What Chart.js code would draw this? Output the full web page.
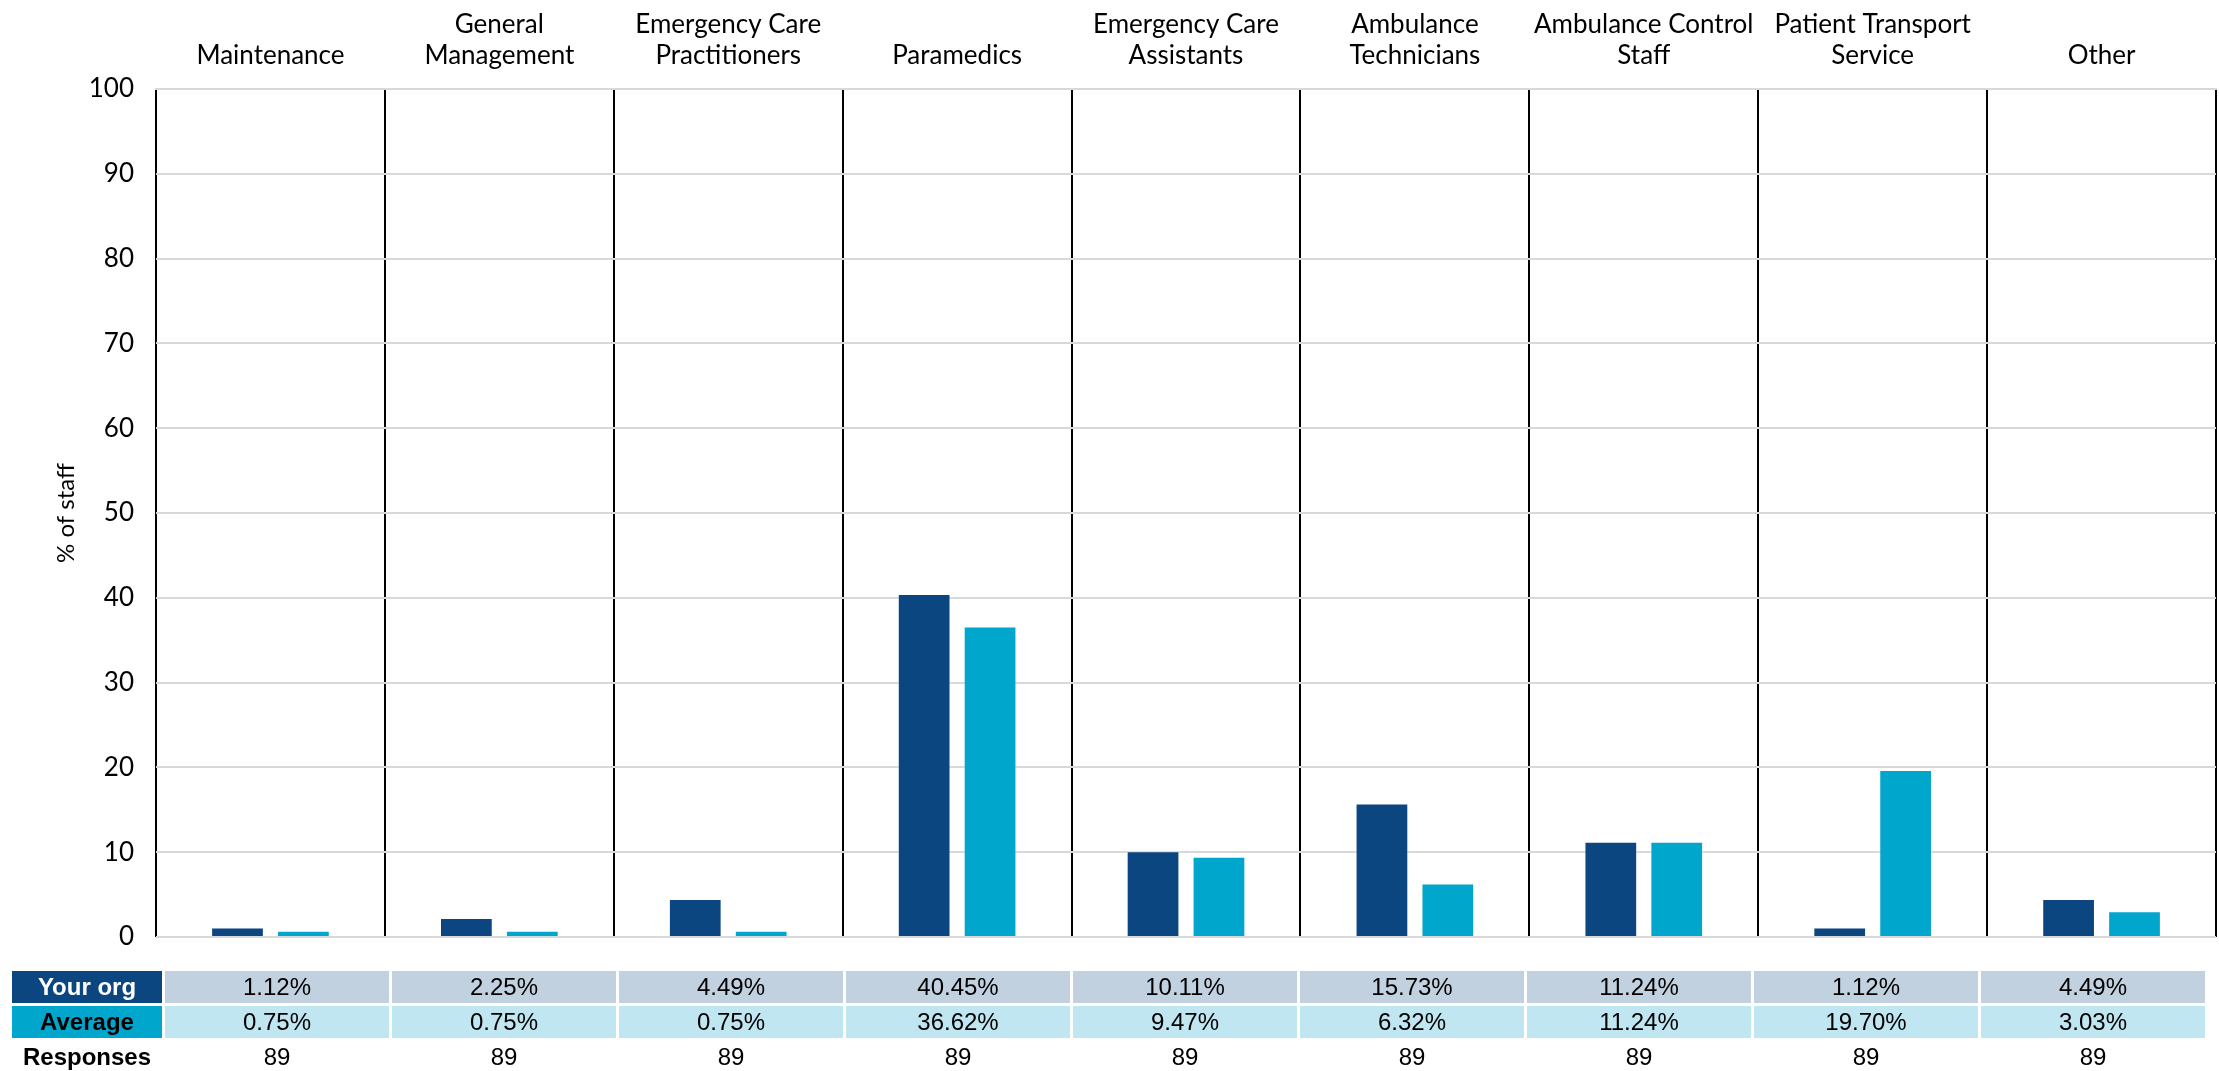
<!DOCTYPE html>
<html>
<head>
<meta charset="utf-8">
<script src="https://cdn.jsdelivr.net/npm/chart.js@4.4.1/dist/chart.umd.min.js"></script>
<style>
body { margin: 0; background: #fff; }
#wrap { position: relative; width: 2219px; height: 1071px; }
#myChart { position: absolute; left: 0; top: 0; }
#table {
    position: absolute; left: 12px; top: 971px;
    display: grid;
    grid-template-columns: 150px repeat(9, 224px);
    column-gap: 3px; row-gap: 3px;
    font-family: "Liberation Sans", Arial, sans-serif;
    font-size: 24px; color: #000;
}
#table div { height: 32px; line-height: 32px; text-align: center; white-space: nowrap; }
.lab { font-weight: bold; }
.org-lab { background: #0b4680; color: #fff; }
.avg-lab { background: #00a6cc; }
.org { background: #c2d1e0; }
.avg { background: #bfe6f1; }
</style>
</head>
<body>
<div id="wrap">
  <canvas id="myChart" width="2219" height="1071"></canvas>
  <div id="table"></div>
</div>
<script>
// values
let categories = [
    ['Maintenance'],
    ['General', 'Management'],
    ['Emergency Care', 'Practitioners'],
    ['Paramedics'],
    ['Emergency Care', 'Assistants'],
    ['Ambulance', 'Technicians'],
    ['Ambulance Control', 'Staff'],
    ['Patient Transport', 'Service'],
    ['Other']
]
let yourOrg = [1.12, 2.25, 4.49, 40.45, 10.11, 15.73, 11.24, 1.12, 4.49]
let average = [0.75, 0.75, 0.75, 36.62, 9.47, 6.32, 11.24, 19.70, 3.03]
let responses = [89, 89, 89, 89, 89, 89, 89, 89, 89]
let yTicks = [0, 10, 20, 30, 40, 50, 60, 70, 80, 90, 100]

const DARK = '#0b4680'
const LIGHT = '#00a6cc'

function buildTable(){
    let t = document.getElementById('table')
    let html = '<div class="lab org-lab">Your org</div>'
    yourOrg.forEach(v => { html += '<div class="org">' + v.toFixed(2) + '%</div>' })
    html += '<div class="lab avg-lab">Average</div>'
    average.forEach(v => { html += '<div class="avg">' + v.toFixed(2) + '%</div>' })
    html += '<div class="lab">Responses</div>'
    responses.forEach(v => { html += '<div>' + v + '</div>' })
    t.innerHTML = html
}

function renderChart(){
    var ctx = document.getElementById('myChart').getContext('2d')
    new Chart(ctx, {
        type: 'bar',
        data: {
            labels: categories,
            datasets: [{
                label: 'Your org',
                backgroundColor: DARK,
                borderColor: 'rgba(255,255,255,0.35)',
                borderWidth: 1,
                barPercentage: 0.8,
                categoryPercentage: 0.576,
                data: yourOrg
            },
            {
                label: 'Average',
                backgroundColor: LIGHT,
                borderColor: 'rgba(255,255,255,0.35)',
                borderWidth: 1,
                barPercentage: 0.8,
                categoryPercentage: 0.576,
                data: average
            }]
        },
        options: {
            responsive: false,
            animation: false,
            devicePixelRatio: 1,
            layout: { padding: { left: 0, top: 0, right: 3, bottom: 134 } },
            plugins: {
                legend: { display: false },
                tooltip: { enabled: false }
            },
            scales: {
                x: {
                    position: 'top',
                    afterFit: s => { s.height = 89 },
                    grid: { offset: true, color: '#000', lineWidth: 2, drawTicks: false },
                    border: { display: true, color: '#d9d9d9', width: 2 },
                    ticks: {
                        padding: 18,
                        maxRotation: 0,
                        autoSkip: false,
                        color: '#000',
                        font: { family: 'Lato', size: 26, lineHeight: 1.18 }
                    }
                },
                y: {
                    min: 0,
                    max: 100,
                    afterFit: s => { s.width = 156 },
                    afterBuildTicks: s => { s.ticks = yTicks.map(v => ({ value: v })) },
                    grid: { color: '#d9d9d9', lineWidth: 2, drawTicks: false },
                    border: { display: false },
                    ticks: {
                        padding: 22,
                        color: '#000',
                        font: { family: 'Lato', size: 26 }
                    },
                    title: {
                        display: true,
                        text: '% of staff',
                        color: '#000',
                        padding: { top: 52, bottom: 0 },
                        font: { family: 'Lato', size: 24, lineHeight: 1.2 }
                    }
                }
            }
        }
    })
}

buildTable()
renderChart()
</script>
</body>
</html>
